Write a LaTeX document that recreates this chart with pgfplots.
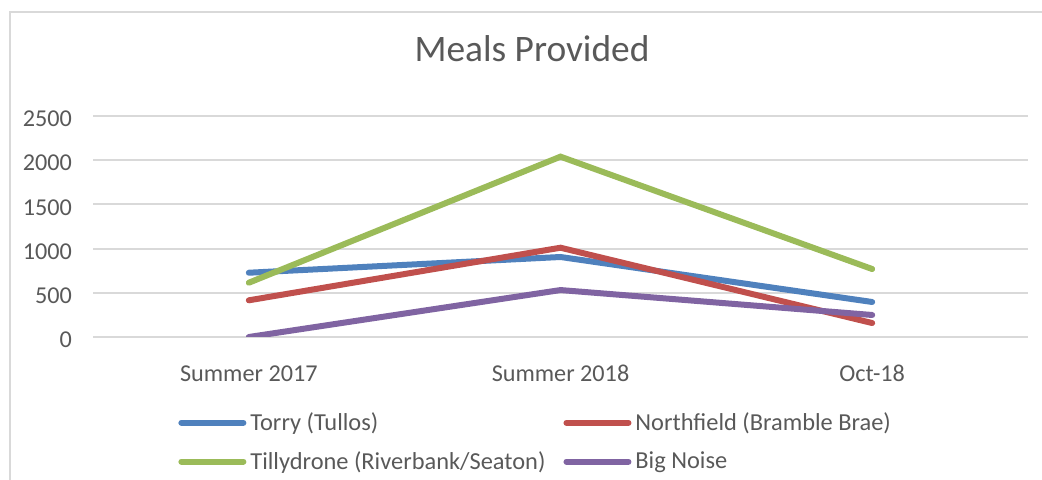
\documentclass[border=0pt]{standalone}
\usepackage{pgfplots}
\pgfplotsset{compat=1.18}
\usepackage{fontspec}
\setmainfont{Carlito}
\definecolor{txt}{HTML}{595959}
\definecolor{gridc}{HTML}{D9D9D9}
\definecolor{cblue}{HTML}{4F81BD}
\definecolor{cred}{HTML}{C0504D}
\definecolor{cgreen}{HTML}{9BBB59}
\definecolor{cpurple}{HTML}{8064A2}
\begin{document}
\begin{tikzpicture}
\useasboundingbox (0,0) rectangle (521pt,240pt);
\draw[color=gridc, line width=1pt] (4.75pt,0pt) -- (4.75pt,234pt) -- (521pt,234pt);
\node[font=\fontsize{18.7}{22}\selectfont, text=txt] at (266pt,215.5pt) {Meals Provided};
\begin{axis}[
  at={(46.5pt,71.5pt)}, anchor=south west,
  scale only axis, width=467.5pt, height=110.5pt,
  xmin=-0.5, xmax=2.5, ymin=0, ymax=2500,
  ytick={0,500,1000,1500,2000,2500},
  xtick={0,1,2}, xticklabels={Summer 2017, Summer 2018, Oct-18},
  axis line style={draw=none},
  ymajorgrids, grid style={line width=1pt, color=gridc},
  major tick length=0pt,
  tick label style={font=\fontsize{12.1}{14}\selectfont, text=txt},
  /pgf/number format/assume math mode=true,
  /pgf/number format/1000 sep={},
  yticklabel style={xshift=-7pt, yshift=-1.5pt},
  xticklabel style={anchor=base, yshift=-22.5pt},
  legend columns=2,
  legend cell align=left,
  legend image code/.code={\draw[#1, line cap=round] (1.5pt,0pt) -- (32.5pt,0pt);},
  legend style={draw=none, fill=none, inner sep=0pt,
    at={(0.0909,-0.321)}, anchor=north west,
    font=\fontsize{12.2}{14}\selectfont, text=txt,
    row sep=5pt,
    /tikz/every even column/.append style={column sep=7pt}},
]
\addplot[cblue, line width=3pt, line cap=round] coordinates {(0,727) (1,905) (2,396)};
\addlegendentry{Torry (Tullos)}
\addplot[cred, line width=3pt, line cap=round] coordinates {(0,415) (1,1010) (2,158)};
\addlegendentry{Northfield (Bramble Brae)}
\addplot[cgreen, line width=3pt, line cap=round] coordinates {(0,614) (1,2040) (2,769)};
\addlegendentry{Tillydrone (Riverbank/Seaton)}
\addplot[cpurple, line width=3pt, line cap=round] coordinates {(0,0) (1,531) (2,249)};
\addlegendentry{Big Noise}
\end{axis}
\end{tikzpicture}
\end{document}
